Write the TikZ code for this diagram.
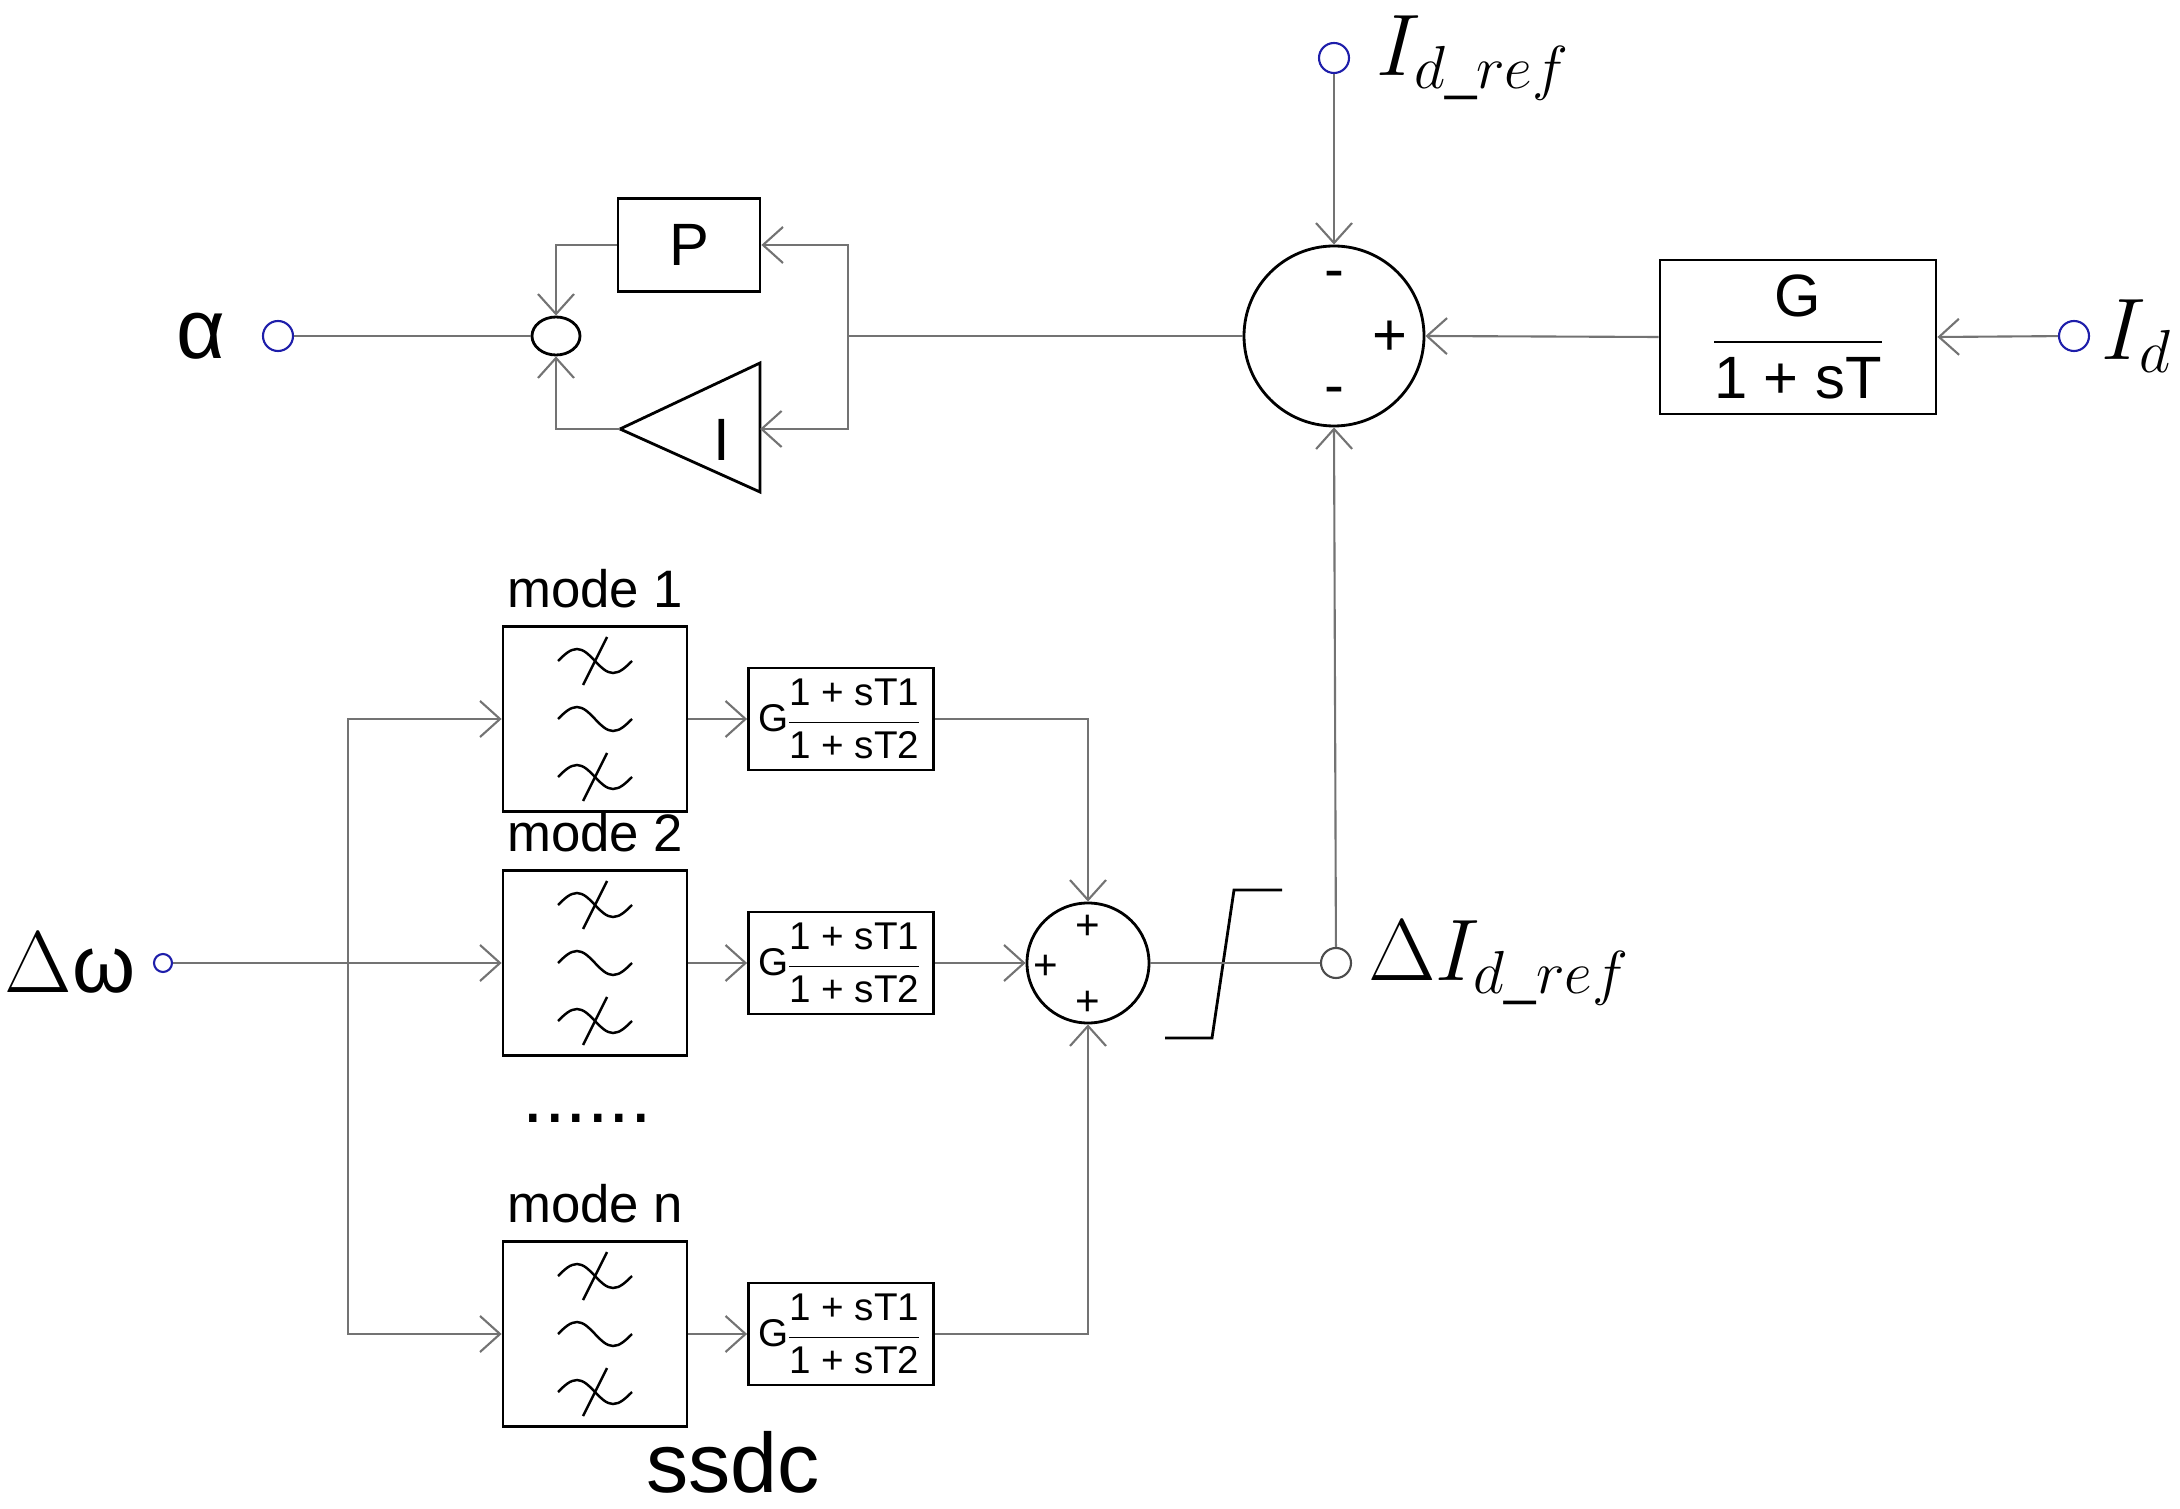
\documentclass[tikz,border=0pt]{standalone}
\usepackage{amsmath}
\usepackage{fontspec}
\setmainfont{Liberation Sans}
\usetikzlibrary{shapes.geometric, arrows.meta}
\definecolor{termblue}{RGB}{30,30,170}
\tikzset{
  blk/.style={draw, rectangle, line width=0.8pt, inner sep=0pt},
  term/.style={draw=termblue, circle, minimum size=3mm, inner sep=0pt, line width=0.6pt},
  wire/.style={draw=black!55, line width=0.6pt},
  arr/.style={wire, -{Straight Barb[length=2mm,width=3.6mm,line width=0.6pt]}},
  llbox/.style={blk, minimum width=18.5mm, minimum height=10.2mm, font=\fontsize{11}{11}\selectfont},
  filt/.style={blk, minimum width=18.4mm, minimum height=18.5mm},
  mlab/.style={font=\fontsize{15}{15}\selectfont}
}
\newcommand{\wavy}[2]{%
  \draw[line width=0.7pt] (#1-37,#2) sin (#1-18,#2-12) cos (#1,#2) sin (#1+18,#2+12) cos (#1+37,#2);}
\newcommand{\wavyx}[2]{\wavy{#1}{#2}\draw[line width=0.7pt] (#1+12,#2-24) -- (#1-12,#2+24);}
\begin{document}
\begin{tikzpicture}[x=0.1mm,y=-0.1mm]
  \useasboundingbox (0,0) rectangle (2180,1509);
  % PI controller
  \node[term] (alpha) at (278,336) {};
  \node[left=4mm] at (alpha) {\fontsize{24}{24}\selectfont α};
  \node[draw, ellipse, line width=0.8pt, minimum width=4.8mm, minimum height=3.8mm, inner sep=0pt] (sum1) at (556,336) {};
  \node[blk, minimum width=14.2mm, minimum height=9.3mm, font=\fontsize{17}{17}\selectfont] (pbox) at (689,245) {P};
  \coordinate (itip) at (620,429);
  \coordinate (iin) at (760,429);
  \draw[line width=0.8pt] (itip) -- (760,363) -- (760,492) -- cycle;
  \node[font=\fontsize{17}{17}\selectfont] (ilab) at (722,440) {I};
  \coordinate (pij) at (848,336);
  % outer loop
  \node[draw, circle, line width=0.8pt, minimum size=18mm, inner sep=0pt] (bsum) at (1334,336) {};
  \node[font=\fontsize{17}{17}\selectfont] at (1334,280) {-};
  \node[font=\fontsize{17}{17}\selectfont] at (1390,338) {+};
  \node[font=\fontsize{17}{17}\selectfont] at (1334,396) {-};
  \node[blk, minimum width=27.6mm, minimum height=15.4mm, font=\fontsize{17}{20}\selectfont] (gbox) at (1798,337)
    {$\dfrac{\text{G}}{\text{1 + sT}}$};
  \node[term] (idin) at (2074,336) {};
  \node[right=1.5mm] at (idin) {\fontsize{23}{23}\selectfont $I_d$};
  \node[term] (irefin) at (1334,58) {};
  \node[right=3mm] at (irefin) {\fontsize{23}{23}\selectfont $I_{d\_ref}$};
  \node[draw=black!70, circle, minimum size=3mm, inner sep=0pt, line width=0.6pt] (dout) at (1336,963) {};
  \node[right=2mm] at (dout) {\fontsize{23}{23}\selectfont $\Delta I_{d\_ref}$};
  % ssdc
  \node[term, minimum size=1.8mm] (dw) at (163,963) {};
  \node[left=1.5mm] at (dw) {\fontsize{23}{23}\selectfont $\Delta$ω};
  \coordinate (br) at (348,963);
  \foreach \n/\y/\t in {1/719/mode 1, 2/963/mode 2, n/1334/mode n} {
    \node[filt] (f\n) at (595,\y) {};
    \node[mlab, above=0.5mm] at (f\n.north) {\t};
    \wavyx{595}{\y-58}
    \wavy{595}{\y}
    \wavyx{595}{\y+58}
    \node[llbox] (ll\n) at (841,\y) {G\kern-1pt$\dfrac{\text{1 + sT1}}{\text{1 + sT2}}$};
    \draw[arr] (f\n) -- (ll\n);
  }
  \node[font=\fontsize{22}{22}\selectfont] at (587,1118) {......};
  \node[font=\fontsize{24}{24}\selectfont] at (733,1462) {ssdc};
  \node[draw, ellipse, line width=0.8pt, minimum width=12.2mm, minimum height=12mm, inner sep=0pt] (sum2) at (1088,963) {};
  \node[font=\fontsize{12}{12}\selectfont] at (1088,927) {+};
  \node[font=\fontsize{12}{12}\selectfont] at (1046,967) {+};
  \node[font=\fontsize{12}{12}\selectfont] at (1088,1003) {+};
  % limiter
  \draw[line width=0.8pt] (1165,1038) -- (1212,1038) -- (1234,890) -- (1282,890);
  % connections
  \draw[wire] (alpha) -- (sum1.west);
  \draw[arr] (pij) |- (pbox.east);
  \draw[arr] (pij) |- (iin);
  \draw[arr] (pbox.west) -| (sum1.north);
  \draw[arr] (itip) -| (sum1.south);
  \draw[wire] (pij) -- (bsum.west);
  \draw[arr] (gbox.west) -- (bsum.east);
  \draw[arr] (idin) -- (gbox.east);
  \draw[arr] (irefin) -- (bsum.north);
  \draw[arr] (dout) -- (bsum.south);
  \draw[arr] (dw) -- (f2.west);
  \draw[arr] (br) |- (f1.west);
  \draw[arr] (br) |- (fn.west);
  \draw[arr] (ll1.east) -| (sum2.north);
  \draw[arr] (ll2.east) -- (sum2.west);
  \draw[arr] (lln.east) -| (sum2.south);
  \draw[wire] (sum2.east) -- (dout);
\end{tikzpicture}
\end{document}
